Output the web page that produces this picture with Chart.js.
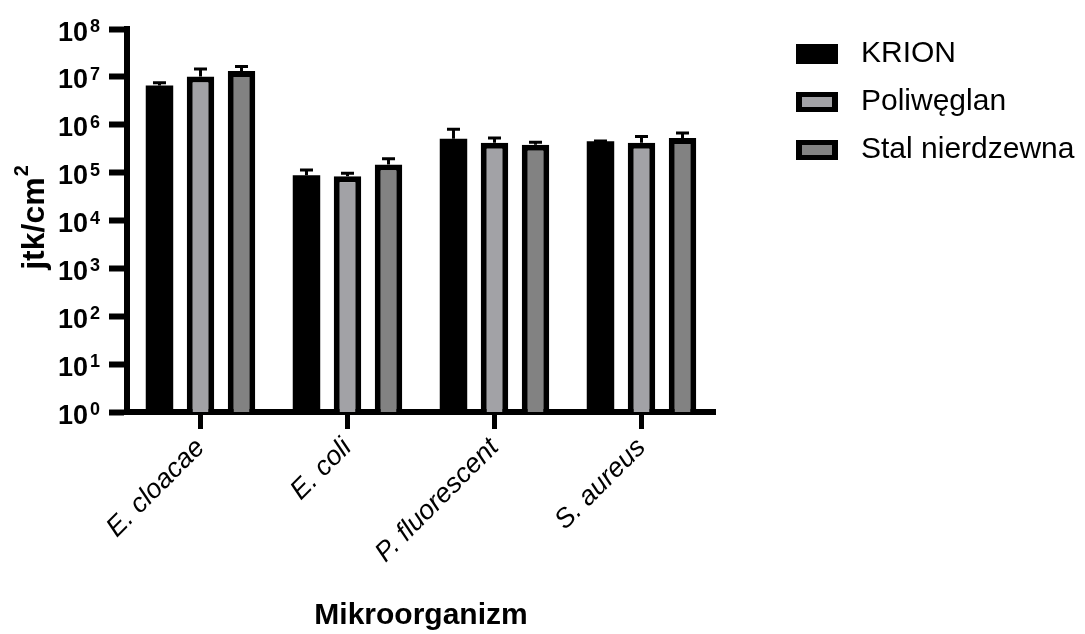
<!DOCTYPE html>
<html>
<head>
<meta charset="utf-8">
<title>Mikroorganizm – jtk/cm²</title>
<script src="https://cdn.jsdelivr.net/npm/chart.js@4/dist/chart.umd.min.js"></script>
<style>
  html, body { margin: 0; padding: 0; background: #ffffff; }
  canvas { display: block; }
</style>
</head>
<body>
<canvas id="chart" width="1085" height="634"></canvas>
<script>
// ---- data ----
const categories = ['E. cloacae', 'E. coli', 'P. fluorescent', 'S. aureus'];
const seriesNames = ['KRION', 'Poliwęglan', 'Stal nierdzewna'];

const krionMean      = [6.6e6, 8.8e4, 5.1e5, 4.5e5];
const krionSd        = [0.9e6, 2.5e4, 3.0e5, 0.1e5];
const poliweglanMean = [1.02e7, 8.4e4, 4.2e5, 4.2e5];
const poliweglanSd   = [0.44e7, 1.3e4, 1.1e5, 1.5e5];
const stalMean       = [1.32e7, 1.47e5, 3.8e5, 5.3e5];
const stalSd         = [0.33e7, 0.49e5, 0.5e5, 1.4e5];

const tickExponents = [0, 1, 2, 3, 4, 5, 6, 7, 8];
const yAxisTitle = ['jtk/cm', '2'];   // unit, with the squared power raised
const xAxisTitle = 'Mikroorganizm';

// ---- look ----
const FONT = '"Liberation Sans", Arial, Helvetica, sans-serif';
const fills = ['#000000', '#a2a2a6', '#828282'];
const borders = [0, 6, 6];
const LINE = 6;

// layout numbers (pixels)
const Y_AXIS_WIDTH = 127;
const X_AXIS_HEIGHT = 222;
const PLOT_TOP = 29;
const LEGEND_W = 370;
const LEGEND_X = 788;
const LEGEND_Y = 39;

// small swatches used as legend markers: black frame around the series fill
function swatch(fill) {
  const c = document.createElement('canvas');
  c.width = 42; c.height = 20;
  const g = c.getContext('2d');
  g.fillStyle = '#000';
  g.fillRect(0, 0, 42, 20);
  g.fillStyle = fill;
  g.fillRect(6, 5, 30, 10);
  return c;
}
const swatches = fills.map(swatch);

// upward-only error bars with a short cap
const errorBars = {
  id: 'errorBars',
  afterDatasetsDraw(chart) {
    const ctx = chart.ctx;
    const y = chart.scales.y;
    ctx.save();
    ctx.strokeStyle = '#000';
    ctx.lineWidth = 3;
    ctx.lineCap = 'butt';
    chart.data.datasets.forEach((ds, di) => {
      const meta = chart.getDatasetMeta(di);
      meta.data.forEach((bar, i) => {
        const top = y.getPixelForValue(ds.data[i]);
        const hi = y.getPixelForValue(ds.data[i] + ds.errorPlus[i]);
        ctx.beginPath();
        ctx.moveTo(bar.x, top);
        ctx.lineTo(bar.x, hi);
        ctx.moveTo(bar.x - 6.5, hi);
        ctx.lineTo(bar.x + 6.5, hi);
        ctx.stroke();
      });
    });
    ctx.restore();
  }
};

// powers of ten on the value axis, written as 10 with a raised exponent,
// plus the rotated unit title of that axis
const powerLabels = {
  id: 'powerLabels',
  afterDraw(chart) {
    const ctx = chart.ctx;
    const y = chart.scales.y;
    const right = y.right - 27;
    const baseFont = 'bold 27px ' + FONT;
    const expFont = 'bold 18px ' + FONT;
    ctx.save();
    ctx.fillStyle = '#000';
    ctx.textAlign = 'left';
    ctx.textBaseline = 'alphabetic';
    y.ticks.forEach(t => {
      const py = y.getPixelForValue(t.value);
      const exp = String(Math.round(Math.log10(t.value)));
      ctx.font = expFont;
      const we = ctx.measureText(exp).width;
      ctx.font = baseFont;
      const wb = ctx.measureText('10').width;
      const xe = right - we;
      const xb = xe - 2 - wb;
      ctx.fillText('10', xb, py + 11.5);
      ctx.font = expFont;
      ctx.fillText(exp, xe, py + 3);
    });

    // axis title, reading bottom to top
    const titleFont = 'bold 32px ' + FONT;
    const supFont = 'bold 20px ' + FONT;
    ctx.font = titleFont;
    const w1 = ctx.measureText(yAxisTitle[0]).width;
    ctx.font = supFont;
    const w2 = ctx.measureText(yAxisTitle[1]).width;
    const total = w1 + 1 + w2;
    const cy = (y.top + y.bottom) / 2 - 3;
    ctx.translate(44, cy);
    ctx.rotate(-Math.PI / 2);
    ctx.font = titleFont;
    ctx.fillText(yAxisTitle[0], -total / 2, 0);
    ctx.font = supFont;
    ctx.fillText(yAxisTitle[1], -total / 2 + w1 + 1, -16);
    ctx.restore();
  }
};

// keeps the legend column at a fixed width and place
const legendPlacement = {
  id: 'legendPlacement',
  beforeLayout(chart) {
    const lg = chart.legend;
    if (lg && !lg._fixedFit) {
      const fit = lg.fit;
      lg.fit = function () { fit.call(this); this.width = LEGEND_W; };
      lg._fixedFit = true;
    }
  },
  afterLayout(chart) {
    const lg = chart.legend;
    if (!lg) return;
    const pad = lg.options.labels.padding;
    const w = lg.width, h = lg.height;
    lg.left = LEGEND_X - pad; lg.right = lg.left + w;
    lg.top = LEGEND_Y - pad; lg.bottom = lg.top + h;
  }
};

const means = [krionMean, poliweglanMean, stalMean];
const sds = [krionSd, poliweglanSd, stalSd];

const datasets = seriesNames.map((name, i) => ({
  label: name,
  data: means[i],
  errorPlus: sds[i],
  backgroundColor: fills[i],
  borderColor: '#000',
  borderWidth: borders[i],
  borderSkipped: 'start',
  categoryPercentage: 0.837,
  barPercentage: 0.67
}));

new Chart(document.getElementById('chart'), {
  type: 'bar',
  data: { labels: categories, datasets },
  plugins: [errorBars, powerLabels, legendPlacement],
  options: {
    responsive: false,
    animation: false,
    layout: { padding: { top: PLOT_TOP, left: 0, right: 0, bottom: 0 } },
    plugins: {
      tooltip: { enabled: false },
      legend: {
        position: 'right',
        align: 'start',
        labels: {
          usePointStyle: true,
          pointStyleWidth: 58,
          boxHeight: 20,
          padding: 18,
          color: '#000',
          font: { family: FONT, size: 30 },
          generateLabels(chart) {
            return chart.data.datasets.map((ds, i) => ({
              text: ds.label,
              datasetIndex: i,
              pointStyle: swatches[i],
              fillStyle: ds.backgroundColor,
              strokeStyle: '#000',
              lineWidth: 0,
              hidden: false
            }));
          }
        }
      }
    },
    scales: {
      x: {
        type: 'category',
        offset: true,
        grid: { offset: false, drawOnChartArea: false, drawTicks: true, tickLength: 17, tickWidth: 5, tickColor: '#000' },
        border: { display: true, width: LINE, color: '#000' },
        ticks: {
          autoSkip: false,
          minRotation: 45,
          maxRotation: 45,
          padding: 3,
          color: '#000',
          font: { family: FONT, size: 27, style: 'italic' }
        },
        title: {
          display: true,
          text: xAxisTitle,
          color: '#000',
          font: { family: FONT, size: 30, weight: 'bold' },
          padding: { top: 0, bottom: 0 }
        },
        afterFit(scale) { scale.height = X_AXIS_HEIGHT; }
      },
      y: {
        type: 'logarithmic',
        min: 1,
        max: 1e8,
        afterBuildTicks(scale) {
          scale.ticks = tickExponents.map(e => ({ value: Math.pow(10, e), major: true }));
        },
        ticks: { display: false },
        grid: { drawOnChartArea: false, drawTicks: true, tickLength: 18, tickWidth: LINE, tickColor: '#000' },
        border: { display: true, width: LINE, color: '#000' },
        title: { display: false },
        afterFit(scale) { scale.width = Y_AXIS_WIDTH; }
      }
    }
  }
});
</script>
</body>
</html>
